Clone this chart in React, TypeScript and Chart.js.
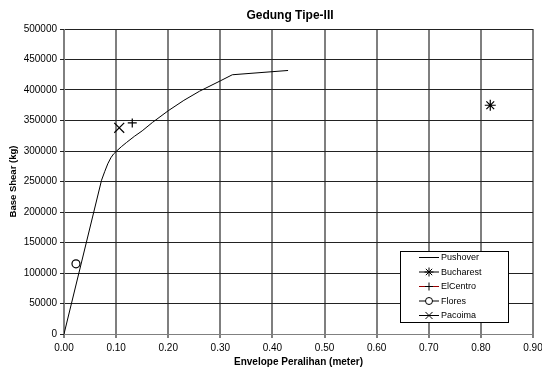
import React, { useEffect, useRef } from "react";
import { Chart, registerables } from "chart.js";

Chart.register(...registerables);

const chartTitle = "Gedung Tipe-III";
const xTitle = "Envelope Peralihan (meter)";
const yTitle = "Base Shear (kg)";
const pushoverX = [0, 0.072, 0.078, 0.084, 0.09, 0.095, 0.101, 0.11, 0.12, 0.135, 0.15, 0.17, 0.2, 0.23, 0.26, 0.3, 0.323, 0.43];
const pushoverY = [0, 252000, 266000, 279000, 289000, 295000, 300000, 307000, 314000, 324000, 333000, 347000, 366000, 383000, 398000, 415000, 425000, 432000];
const bucharest = [{ x: 0.818, y: 375000 }];
const elCentro = [{ x: 0.131, y: 346000 }];
const flores = [{ x: 0.023, y: 115000 }];
const pacoima = [{ x: 0.106, y: 338000 }];
const seriesNames = ["Pushover", "Bucharest", "ElCentro", "Flores", "Pacoima"];

const FONT = "'Liberation Sans', Arial, sans-serif";

function drawPoint(ctx: CanvasRenderingContext2D, style: string, x: number, y: number, r: number) {
  ctx.beginPath();
  const d = r * Math.SQRT1_2;
  if (style === "circle") {
    ctx.arc(x, y, r, 0, Math.PI * 2);
    ctx.fill();
    ctx.stroke();
    return;
  }
  if (style === "cross" || style === "star") {
    ctx.moveTo(x - r, y);
    ctx.lineTo(x + r, y);
    ctx.moveTo(x, y - r);
    ctx.lineTo(x, y + r);
  }
  if (style === "crossRot" || style === "star") {
    ctx.moveTo(x - d, y - d);
    ctx.lineTo(x + d, y + d);
    ctx.moveTo(x + d, y - d);
    ctx.lineTo(x - d, y + d);
  }
  ctx.stroke();
}

const decorPlugin = {
  id: "decor",
  afterDraw(chart: any) {
    const ctx = chart.ctx;
    ctx.save();
    ctx.fillStyle = "#000";
    ctx.font = "bold 12px " + FONT;
    ctx.textAlign = "center";
    ctx.textBaseline = "middle";
    ctx.fillText(chartTitle, 290, 16);
    const x0 = 400, y0 = 251, w = 108, h = 71;
    ctx.fillStyle = "#ffffff";
    ctx.fillRect(x0, y0, w, h);
    ctx.strokeStyle = "#000000";
    ctx.lineWidth = 1;
    ctx.strokeRect(x0 + 0.5, y0 + 0.5, w, h);
    const styles = [null, "star", "cross", "circle", "crossRot"];
    const sizes = [0, 4.5, 4, 3.5, 5];
    const lineColors = ["#000000", "#000000", "#990000", "#000000", "#000000"];
    for (let i = 0; i < seriesNames.length; i++) {
      const cy = y0 + 6.5 + i * 14.5;
      ctx.strokeStyle = lineColors[i];
      ctx.lineWidth = 1;
      ctx.beginPath();
      ctx.moveTo(419, cy);
      ctx.lineTo(439, cy);
      ctx.stroke();
      const st = styles[i];
      if (st) {
        ctx.strokeStyle = "#000";
        ctx.fillStyle = "#fff";
        drawPoint(ctx, st, 429, cy, sizes[i]);
      }
      ctx.fillStyle = "#000";
      ctx.font = "9px " + FONT;
      ctx.textBaseline = "middle";
      ctx.textAlign = "left";
      ctx.fillText(seriesNames[i], 441, cy + 0.5);
    }
    ctx.restore();
  },
};

export default function App() {
  const ref = useRef<HTMLCanvasElement>(null);
  useEffect(() => {
    if (!ref.current) return;
    const chart = new Chart(ref.current, {
      type: "scatter",
      data: {
        datasets: [
          {
            label: seriesNames[0],
            data: pushoverX.map((x, i) => ({ x, y: pushoverY[i] })),
            showLine: true,
            borderColor: "#000",
            borderWidth: 1,
            pointRadius: 0,
            tension: 0,
          } as any,
          { label: seriesNames[1], data: bucharest, pointStyle: "star", pointRadius: 5.5, borderColor: "#000", borderWidth: 1.2, backgroundColor: "#fff" },
          { label: seriesNames[2], data: elCentro, pointStyle: "cross", pointRadius: 4.5, borderColor: "#000", borderWidth: 1.2, backgroundColor: "#fff" },
          { label: seriesNames[3], data: flores, pointStyle: "circle", pointRadius: 4, borderColor: "#000", borderWidth: 1.2, backgroundColor: "#fff" },
          { label: seriesNames[4], data: pacoima, pointStyle: "crossRot", pointRadius: 7, borderColor: "#000", borderWidth: 1.2, backgroundColor: "#fff" },
        ],
      },
      options: {
        animation: false,
        responsive: false,
        layout: { padding: { left: 0, right: 9, top: 29, bottom: 0 } },
        plugins: {
          legend: { display: false },
          tooltip: { enabled: false },
          title: { display: false },
        },
        scales: {
          x: {
            type: "linear",
            min: 0,
            max: 0.9,
            ticks: {
              stepSize: 0.1,
              color: "#000",
              font: { family: FONT, size: 10 },
              padding: 4,
              maxRotation: 0,
              callback: (v: any) => Number(v).toFixed(2),
            },
            grid: { color: "rgba(0,0,0,0.5)", lineWidth: 2, tickLength: 4, drawTicks: true },
            border: { color: "#808080", width: 1 },
            title: {
              display: true,
              text: xTitle,
              color: "#000",
              font: { family: FONT, size: 10, weight: "bold" },
              padding: { top: 2, bottom: 0 },
            },
            afterFit: (s: any) => {
              s.height = 34;
              s.paddingLeft = 0;
              s.paddingRight = 0;
            },
          },
          y: {
            type: "linear",
            min: 0,
            max: 500000,
            ticks: {
              stepSize: 50000,
              color: "#000",
              font: { family: FONT, size: 10 },
              padding: 3,
              callback: (v: any) => String(v),
            },
            grid: { color: "#222", lineWidth: 1, tickLength: 4 },
            border: { color: "#808080", width: 1 },
            title: {
              display: true,
              text: yTitle,
              color: "#000",
              font: { family: FONT, size: 9.5, weight: "bold" },
              padding: { top: 8, bottom: 4 },
            },
            afterFit: (s: any) => {
              s.width = 64;
              s.paddingTop = 0;
              s.paddingBottom = 0;
            },
          },
        },
      } as any,
      plugins: [decorPlugin],
    });
    return () => chart.destroy();
  }, []);
  return (
    <div style={{ position: "absolute", left: 0, top: 0, width: 542, height: 368, background: "#fff" }}>
      <canvas ref={ref} width={542} height={368} style={{ width: 542, height: 368 }} />
    </div>
  );
}
